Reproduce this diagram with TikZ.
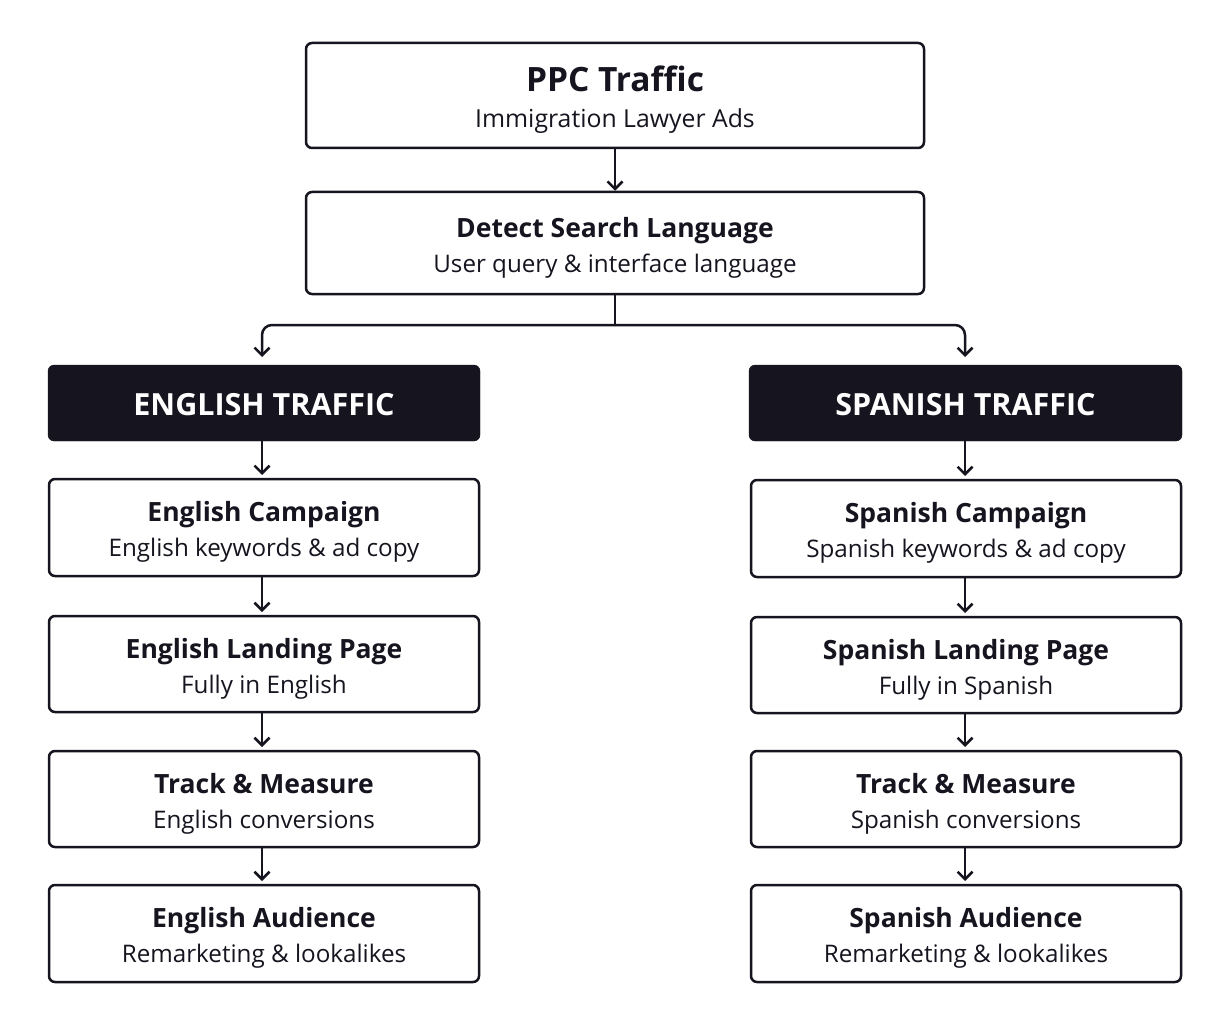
\documentclass[tikz,border=0pt]{standalone}
\usepackage{fontspec}
\setmainfont{Open Sans}
\usetikzlibrary{arrows.meta}
\definecolor{ink}{HTML}{16151F}
\tikzset{
  x=1pt,y=-1pt,
  box/.style={draw=ink,line width=2.5pt,rounded corners=6pt,fill=white,inner sep=0pt},
  txt/.style={align=center,inner sep=0pt,text=ink,font=\fontsize{24}{35}\selectfont,yshift=-4.5pt},
  hdr/.style={fill=ink,draw=ink,rounded corners=6pt,inner sep=0pt},
  hdrtxt/.style={text=white,font=\fontsize{30.5}{36}\selectfont\bfseries,inner sep=0pt,yshift=-1.5pt},
  arr/.style={draw=ink,line width=2.5pt,-{Straight Barb[length=7.5pt,width=15pt,line width=2.5pt]}},
}
\newcommand{\twoline}[2]{{\fontsize{26.5}{35}\selectfont\bfseries #1}\\{\fontsize{24.2}{35}\selectfont #2}}
% name, x, y, width, height, title, subtitle
\newcommand{\flowbox}[7]{%
  \node[box,minimum width=#4pt,minimum height=#5pt] (#1) at (#2,#3) {};
  \node[txt] (#1t) at (#1.center) {\twoline{#6}{#7}};}
\begin{document}
\begin{tikzpicture}
\useasboundingbox[fill=white] (0,0) rectangle (1230,1024);
\node[box,minimum width=618pt,minimum height=105pt] (ppc) at (615,95.5) {};
\node[txt,font=\fontsize{24}{36}\selectfont] (ppct) at (ppc.center)
  {{\fontsize{33.5}{36}\selectfont\bfseries PPC Traffic}\\{\fontsize{24.8}{36}\selectfont Immigration Lawyer Ads}};
\flowbox{det}{615}{243}{618}{102}{Detect Search Language}{User query \& interface language}

\node[hdr,minimum width=432pt,minimum height=76pt] (eh) at (264,403) {};
\node[hdrtxt] (eht) at (eh.center) {ENGLISH TRAFFIC};
\node[hdr,minimum width=433pt,minimum height=76pt] (sh) at (965.5,403) {};
\node[hdrtxt] (sht) at (sh.center) {SPANISH TRAFFIC};

\flowbox{e1}{264}{527.5}{430}{97}{English Campaign}{English keywords \& ad copy}
\flowbox{e2}{264}{664}{430}{96}{English Landing Page}{Fully in English}
\flowbox{e3}{264}{799}{430}{96}{Track \& Measure}{English conversions}
\flowbox{e4}{264}{933.5}{430}{97}{English Audience}{Remarketing \& lookalikes}

\flowbox{s1}{966}{528.5}{430}{97}{Spanish Campaign}{Spanish keywords \& ad copy}
\flowbox{s2}{966}{665}{430}{96}{Spanish Landing Page}{Fully in Spanish}
\flowbox{s3}{966}{799}{430}{96}{Track \& Measure}{Spanish conversions}
\flowbox{s4}{966}{933.5}{430}{97}{Spanish Audience}{Remarketing \& lookalikes}

\coordinate (split) at (615,325);
\draw[arr] (ppc.south) -- (det.north);
\draw[draw=ink,line width=2.5pt] (det.south) -- (split);
\draw[arr,rounded corners=10pt] (split) -- (262,325) -- (262,357);
\draw[arr,rounded corners=10pt] (split) -- (965,325) -- (965,357);
\draw[arr] (eh.south -| 262,0) -- (262,475);
\draw[arr] (sh.south -| 965,0) -- (965,476);
\draw[arr] (e1.south -| 262,0) -- (262,612);
\draw[arr] (e2.south -| 262,0) -- (262,747);
\draw[arr] (e3.south -| 262,0) -- (262,881);
\draw[arr] (s1.south -| 965,0) -- (965,613);
\draw[arr] (s2.south -| 965,0) -- (965,747);
\draw[arr] (s3.south -| 965,0) -- (965,881);
\end{tikzpicture}
\end{document}
